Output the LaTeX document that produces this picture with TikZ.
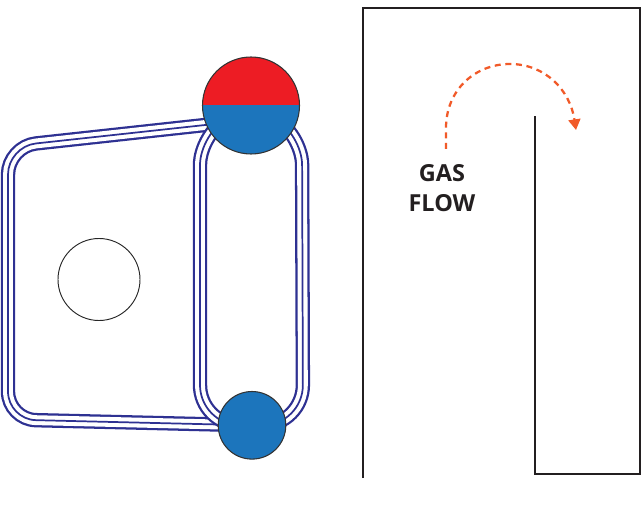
\documentclass[tikz,border=0pt]{standalone}
\usepackage{fontspec}
\setmainfont{Open Sans}
\usetikzlibrary{arrows.meta,backgrounds}
\definecolor{tubeblue}{HTML}{2E3192}
\definecolor{drumblue}{HTML}{1C75BC}
\definecolor{drumred}{HTML}{ED1C24}
\definecolor{gasorange}{HTML}{F15A29}
\definecolor{wallblack}{HTML}{231F20}
\tikzset{
    tube/.style={
        preaction={draw=tubeblue, line width=10.8pt},
        preaction={draw=white, line width=7.4pt},
        draw=tubeblue, line width=1.3pt},
    drum/.style={circle, draw=black!80, line width=0.8pt, inner sep=0pt},
    wall/.style={draw=wallblack, line width=1.8pt},
    gasarrow/.style={draw=gasorange, line width=1.7pt, dash pattern=on 4.5pt off 3.5pt,
        -{Triangle[length=8pt, width=9pt]}}
}
\begin{document}
\begin{tikzpicture}[x=0.75pt, y=-0.75pt]
    % --- Configuration ---
    \def\upperR{48.5}
    \def\lowerR{33.8}
    \def\holeR{41}
    \useasboundingbox (0, 0) rectangle (642, 513);

    % --- Drums ---
    \node[drum, fill=drumblue, minimum size=2*\upperR*0.75pt, path picture={
        \fill[drumred] (path picture bounding box.north west) rectangle (path picture bounding box.east);
    }] (upperdrum) at (251, 105.5) {};
    \node[drum, fill=drumblue, minimum size=2*\lowerR*0.75pt] (lowerdrum) at (252, 425.3) {};
    \node[circle, draw=black!85, line width=0.7pt, minimum size=2*\holeR*0.75pt, inner sep=0pt] (hole) at (99, 279.5) {};

    % --- Tubes ---
    \coordinate (riser) at (251, 120);
    \begin{scope}[on background layer]
        % Left loop
        \draw[tube, rounded corners=21pt] (riser) -- (8, 146.5) -- (8, 419.5) -- (lowerdrum.center);
        % Right loop
        \draw[tube, rounded corners=24pt] (upperdrum.center) -- (200, 133) [rounded corners=30pt] -- (200, 425) -- (lowerdrum.center);
        \draw[tube, rounded corners=24pt] (upperdrum.center) -- (302, 133) [rounded corners=30pt] -- (303, 425) -- (lowerdrum.center);
    \end{scope}

    % --- Walls ---
    \coordinate (wallstart) at (363, 478);
    \coordinate (baffletop) at (535, 116);
    \draw[wall, line join=miter] (wallstart) -- (363, 8) -- (640, 8) -- (640, 474) -- (535, 474) -- (baffletop);

    % --- Gas flow ---
    \node[font=\bfseries\fontsize{17.6}{22.5}\selectfont, text=wallblack, align=center] (gasflow) at (442, 188.5) {GAS\\FLOW};
    \coordinate (gasstart) at (446, 149);
    \coordinate (gasend) at (576, 130);
    \draw[gasarrow] (gasstart) -- (446, 128) .. controls (446, 90) and (475, 64) .. (510, 64)
        .. controls (545, 64) and (570, 90) .. (gasend);
\end{tikzpicture}
\end{document}
